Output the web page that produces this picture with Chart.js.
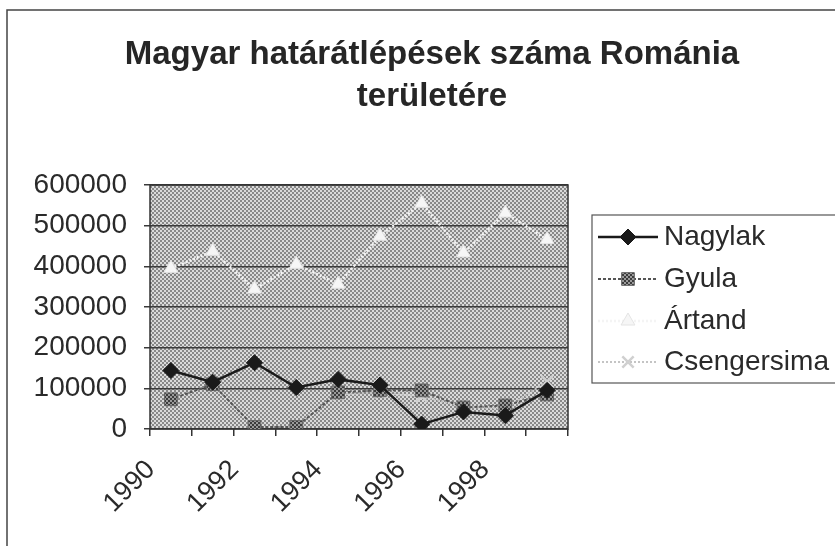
<!DOCTYPE html>
<html>
<head>
<meta charset="utf-8">
<script src="https://cdn.jsdelivr.net/npm/chart.js@4.4.1/dist/chart.umd.min.js"></script>
<style>
  body { margin: 0; background: #fff; }
  #chart { display: block; }
</style>
</head>
<body>
<canvas id="chart" width="835" height="546"></canvas>
<script>
// adatok
const years = ['1990', '1991', '1992', '1993', '1994', '1995', '1996', '1997', '1998', '1999'];
const nagylak = [144000, 115000, 163000, 102000, 122000, 108000, 12000, 42000, 33000, 95000];
const gyula = [73000, 110000, 5000, 5000, 90000, 95000, 95000, 53000, 58000, 85000];
const artand = [395000, 437000, 344000, 405000, 356000, 474000, 555000, 433000, 531000, 466000];
const csengersima = [null, null, null, null, 85000, 90000, 80000, 55000, 50000, 117000];
const yTicks = [0, 100000, 200000, 300000, 400000, 500000, 600000];
const titleLines = ['Magyar határátlépések száma Románia', 'területére'];

const FONT = 'Liberation Sans, Arial, sans-serif';

// pontozott minta (2px-es sakktábla)
function makePattern(light, dark, cell) {
  const c = document.createElement('canvas');
  c.width = cell * 2; c.height = cell * 2;
  const g = c.getContext('2d');
  g.fillStyle = light;
  g.fillRect(0, 0, cell * 2, cell * 2);
  g.fillStyle = dark;
  g.fillRect(0, 0, cell, cell);
  g.fillRect(cell, cell, cell, cell);
  return g.createPattern(c, 'repeat');
}

const ctx = document.getElementById('chart').getContext('2d');
const plotPattern = makePattern('#dadada', '#888888', 2);
const gyulaPattern = makePattern('#9a9a9a', '#3c3c3c', 2);

// keret, háttér, cím és jelmagyarázat
const decor = {
  id: 'decor',
  beforeDraw(chart) {
    const c = chart.ctx;
    const a = chart.chartArea;
    c.save();
    c.fillStyle = plotPattern;
    c.fillRect(a.left, a.top, a.right - a.left, a.bottom - a.top);
    // külső keret
    c.strokeStyle = '#444';
    c.lineWidth = 1.5;
    c.beginPath();
    c.moveTo(7, 546);
    c.lineTo(7, 10);
    c.lineTo(835, 10);
    c.stroke();
    // cím
    c.fillStyle = '#262626';
    c.font = 'bold 33px ' + FONT;
    c.textAlign = 'center';
    c.textBaseline = 'middle';
    c.fillText(titleLines[0], 432, 55);
    c.fillText(titleLines[1], 432, 97);
    c.restore();
  },
  beforeDatasetsDraw(chart) {
    const c = chart.ctx;
    const a = chart.chartArea;
    c.save();
    c.strokeStyle = '#333';
    c.lineWidth = 1.5;
    c.strokeRect(a.left, a.top, a.right - a.left, a.bottom - a.top);
    c.restore();
  },
  afterDraw(chart) {
    const c = chart.ctx;
    c.save();
    c.strokeStyle = '#555';
    c.lineWidth = 1.2;
    c.strokeRect(592, 215, 300, 168);
    const ys = [237, 279, 321, 362];
    chart.data.datasets.forEach((ds, i) => {
      const y = ys[i];
      c.strokeStyle = ds.borderColor;
      c.lineWidth = ds.borderWidth;
      c.setLineDash(ds.borderDash || []);
      c.beginPath();
      c.moveTo(598, y);
      c.lineTo(658, y);
      c.stroke();
      c.setLineDash([]);
      c.fillStyle = ds.pointBackgroundColor;
      c.strokeStyle = ds.pointBorderColor;
      c.lineWidth = ds.pointBorderWidth;
      Chart.helpers.drawPoint(c, {
        pointStyle: ds.pointStyle,
        radius: ds.pointRadius,
        borderWidth: ds.pointBorderWidth
      }, 628, y);
      c.fillStyle = '#2a2a2a';
      c.font = '28px ' + FONT;
      c.textBaseline = 'middle';
      c.textAlign = 'left';
      c.fillText(ds.label, 664, y);
    });
    c.restore();
  }
};

new Chart(ctx, {
  type: 'line',
  data: {
    labels: years,
    datasets: [
      {
        label: 'Nagylak',
        data: nagylak,
        borderColor: '#1a1a1a',
        borderWidth: 2.5,
        pointStyle: 'rectRot',
        pointRadius: 8,
        pointBackgroundColor: '#1a1a1a',
        pointBorderColor: '#1a1a1a',
        pointBorderWidth: 1
      },
      {
        label: 'Gyula',
        data: gyula,
        borderColor: '#555',
        borderWidth: 2,
        borderDash: [3, 2],
        pointStyle: 'rect',
        pointRadius: 9,
        pointBackgroundColor: gyulaPattern,
        pointBorderColor: '#666',
        pointBorderWidth: 1
      },
      {
        label: 'Ártand',
        data: artand,
        borderColor: '#f4f4f4',
        borderWidth: 2.5,
        borderDash: [2, 2],
        pointStyle: 'triangle',
        pointRadius: 8,
        pointBackgroundColor: '#f6f6f6',
        pointBorderColor: '#e4e4e4',
        pointBorderWidth: 1
      },
      {
        label: 'Csengersima',
        data: csengersima,
        borderColor: '#c4c4c4',
        borderWidth: 2,
        borderDash: [2, 2],
        pointStyle: 'crossRot',
        pointRadius: 8,
        pointBackgroundColor: '#d0d0d0',
        pointBorderColor: '#d0d0d0',
        pointBorderWidth: 2.5
      }
    ]
  },
  options: {
    responsive: false,
    animation: false,
    layout: { padding: { left: 0, right: 267, top: 185, bottom: 0 } },
    plugins: {
      legend: { display: false },
      tooltip: { enabled: false },
      title: { display: false }
    },
    scales: {
      x: {
        offset: true,
        border: { display: false },
        grid: {
          offset: true,
          drawOnChartArea: false,
          drawTicks: true,
          tickLength: 7,
          color: '#333',
          lineWidth: 1.5
        },
        ticks: {
          autoSkip: false,
          minRotation: 45,
          maxRotation: 45,
          labelOffset: -20,
          padding: 18,
          color: '#2a2a2a',
          font: { family: FONT, size: 27 },
          callback: (v, i) => (i % 2 === 0 ? years[i] : '')
        },
        afterFit: (s) => { s.height = 117; }
      },
      y: {
        min: 0,
        max: 600000,
        border: { display: false },
        grid: { color: '#3a3a3a', lineWidth: 1.5, tickLength: 6 },
        afterBuildTicks: (s) => { s.ticks = yTicks.map(v => ({ value: v })); },
        ticks: {
          padding: 17,
          color: '#2a2a2a',
          font: { family: FONT, size: 28 },
          callback: (v) => String(v)
        },
        afterFit: (s) => { s.width = 150; }
      }
    }
  },
  plugins: [decor]
});
</script>
</body>
</html>
